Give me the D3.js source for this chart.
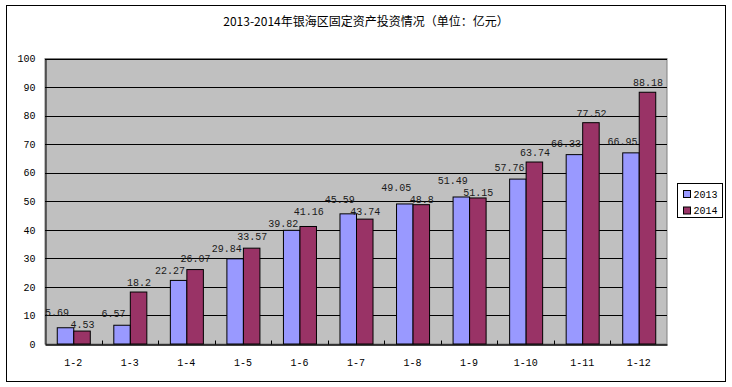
<!DOCTYPE html>
<html>
<head>
<meta charset="utf-8">
<script src="https://cdn.jsdelivr.net/npm/d3@7"></script>
<style>
  html, body { margin: 0; padding: 0; background: #fff; }
  svg { display: block; }
</style>
</head>
<body>
<svg id="chart" width="732" height="387"></svg>
<script>
// 数据（单位：亿元）
const categories = ["1-2", "1-3", "1-4", "1-5", "1-6", "1-7", "1-8", "1-9", "1-10", "1-11", "1-12"];
const series = ["2013", "2014"];
const v2013 = [5.69, 6.57, 22.27, 29.84, 39.82, 45.59, 49.05, 51.49, 57.76, 66.33, 66.95];
const v2014 = [4.53, 18.2, 26.07, 33.57, 41.16, 43.74, 48.8, 51.15, 63.74, 77.52, 88.18];
const yTicks = [0, 10, 20, 30, 40, 50, 60, 70, 80, 90, 100];
const title = "2013-2014年银海区固定资产投资情况（单位：亿元）";

const W = 732, H = 387;
const plot = { l: 45, r: 667, t: 58.5, b: 344 };
const colors = { "2013": "#9999ff", "2014": "#993366" };
const mono = "'Liberation Mono', 'DejaVu Sans Mono', monospace";
const cjk = "'Noto Sans CJK SC', sans-serif";

const svg = d3.select("#chart");

// outer frame
svg.append("rect").attr("x", 6.5).attr("y", 5.5).attr("width", 719).attr("height", 376)
  .attr("fill", "#fff").attr("stroke", "#000").attr("stroke-width", 1);

svg.append("text").attr("x", 366).attr("y", 26).attr("text-anchor", "middle")
  .attr("font-family", cjk).attr("font-size", 12).attr("fill", "#000").text(title);

const x0 = d3.scaleBand().domain(categories).range([plot.l, plot.r])
  .paddingInner(0.416).paddingOuter(0.208);
const x1 = d3.scaleBand().domain(series).range([0, x0.bandwidth()]);
const y = d3.scaleLinear().domain([0, 100]).range([plot.b, plot.t]);

// plot area
svg.append("rect").attr("x", plot.l).attr("y", plot.t)
  .attr("width", plot.r - plot.l).attr("height", plot.b - plot.t)
  .attr("fill", "#c0c0c0").attr("stroke", "#808080").attr("stroke-width", 1);

// gridlines
svg.append("g").selectAll("line").data(yTicks.filter(d => d > 0)).join("line")
  .attr("x1", plot.l).attr("x2", plot.r)
  .attr("y1", d => Math.round(y(d)) + 0.5).attr("y2", d => Math.round(y(d)) + 0.5)
  .attr("stroke", "#000").attr("stroke-width", 1);

// y axis
const yAxis = svg.append("g").attr("transform", `translate(${plot.l + 0.5},0)`)
  .call(d3.axisLeft(y).tickValues(yTicks).tickSize(0).tickPadding(10));
yAxis.select(".domain").attr("stroke", "#000");
yAxis.selectAll("text").attr("font-family", mono).attr("font-size", 10).attr("fill", "#000");

// x axis (inner ticks at category boundaries)
const xAxis = svg.append("g").attr("transform", `translate(0,${plot.b + 0.5})`)
  .call(d3.axisBottom(x0).tickSize(0).tickPadding(14));
xAxis.select(".domain").attr("stroke", "#000").attr("stroke-width", 1.5);
xAxis.selectAll("text").attr("font-family", mono).attr("font-size", 10).attr("fill", "#000");
xAxis.selectAll(".bnd").data(categories.slice(1)).join("line").attr("class", "bnd")
  .attr("x1", d => Math.round(x0(d) - x0.step() * x0.paddingInner() / 2) + 0.5)
  .attr("x2", d => Math.round(x0(d) - x0.step() * x0.paddingInner() / 2) + 0.5)
  .attr("y1", 0).attr("y2", -4).attr("stroke", "#000");

// bars
const rows = categories.map((c, i) => ({ c, vals: [
  { s: "2013", v: v2013[i] }, { s: "2014", v: v2014[i] }] }));

const groups = svg.append("g").selectAll("g").data(rows).join("g")
  .attr("transform", d => `translate(${x0(d.c)},0)`);

groups.selectAll("rect").data(d => d.vals).join("rect")
  .attr("x", d => x1(d.s) + 0.5).attr("y", d => y(d.v))
  .attr("width", x1.bandwidth()).attr("height", d => plot.b - y(d.v))
  .attr("fill", d => colors[d.s]).attr("stroke", "#000").attr("stroke-width", 1);

// value labels: default offset, then push a pair apart when they collide
// (taller bar's label goes up, like the original)
const labelShift = { "2013": [-8, -8], "2014": [1, -6] };
rows.forEach(r => {
  r.vals.forEach(d => { d.ly = y(d.v) + labelShift[d.s][1]; });
  const [a, b] = r.vals;
  if (Math.abs(a.ly - b.ly) < 12) {
    const mid = (a.ly + b.ly) / 2;
    const hi = a.v >= b.v ? a : b, lo = hi === a ? b : a;
    hi.ly = mid - 6; lo.ly = mid + 6;
  }
});
groups.selectAll("text").data(d => d.vals).join("text")
  .attr("x", d => x1(d.s) + x1.bandwidth() / 2 + labelShift[d.s][0])
  .attr("y", d => d.ly)
  .attr("text-anchor", "middle").attr("font-family", mono).attr("font-size", 10)
  .attr("fill", "#1a1a1a").text(d => String(d.v));

// legend
const lg = svg.append("g").attr("transform", "translate(677.5,183.5)");
lg.append("rect").attr("width", 45).attr("height", 34)
  .attr("fill", "#fff").attr("stroke", "#000").attr("stroke-width", 1);
const items = lg.selectAll("g").data(series).join("g")
  .attr("transform", (d, i) => `translate(6,${7 + i * 16.5})`);
items.append("rect").attr("width", 7).attr("height", 7)
  .attr("fill", d => colors[d]).attr("stroke", "#000").attr("stroke-width", 1);
items.append("text").attr("x", 10).attr("y", 7).attr("font-family", mono)
  .attr("font-size", 10).attr("fill", "#000").text(d => d);
</script>
</body>
</html>
